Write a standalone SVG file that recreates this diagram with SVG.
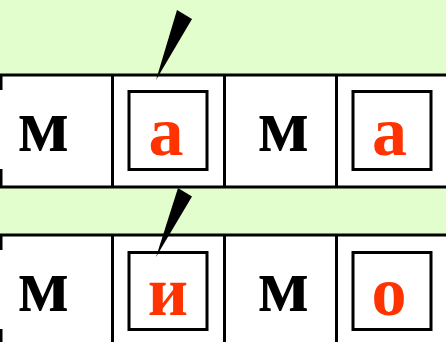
<svg xmlns="http://www.w3.org/2000/svg" width="446" height="342" viewBox="0 0 446 342">
<style>
.cell{fill:#ffffff;stroke:none}
.ln{stroke:#000;stroke-width:3;fill:none}
.box{fill:#ffffff;stroke:#000;stroke-width:3}
.blk{font-family:"Liberation Serif","Times New Roman",serif;font-weight:bold;font-size:76px;fill:#000;text-anchor:middle}
.red{font-family:"Liberation Serif","Times New Roman",serif;font-weight:bold;font-size:70px;fill:#ff3300;text-anchor:middle}
.mark{fill:#000}
</style>
<rect x="0" y="0" width="446" height="342" fill="#e2fecc"/>
<g id="row1">
<rect class="cell" x="0" y="75" width="446" height="112"/>
<line class="ln" x1="0" y1="75" x2="446" y2="75"/>
<line class="ln" x1="0" y1="187" x2="446" y2="187"/>
<line class="ln" x1="112.5" y1="75" x2="112.5" y2="187"/>
<line class="ln" x1="224.5" y1="75" x2="224.5" y2="187"/>
<line class="ln" x1="336.5" y1="75" x2="336.5" y2="187"/>
<line class="ln" x1="1" y1="75" x2="1" y2="90"/>
<line class="ln" x1="1" y1="169" x2="1" y2="187"/>
</g>
<g id="row2">
<rect class="cell" x="0" y="235" width="446" height="110"/>
<line class="ln" x1="0" y1="235" x2="446" y2="235"/>
<line class="ln" x1="112.5" y1="235" x2="112.5" y2="342"/>
<line class="ln" x1="224.5" y1="235" x2="224.5" y2="342"/>
<line class="ln" x1="336.5" y1="235" x2="336.5" y2="342"/>
<line class="ln" x1="1" y1="235" x2="1" y2="250"/>
<line class="ln" x1="1" y1="329" x2="1" y2="342"/>
</g>
<g id="r1c1"><text class="blk" x="43.5" y="151">м</text></g>
<g id="r1c2"><rect class="box" x="129" y="91.5" width="78" height="78"/><text class="red" x="166" y="155">а</text></g>
<g id="r1c3"><text class="blk" x="283.5" y="151">м</text></g>
<g id="r1c4"><rect class="box" x="353" y="91.5" width="78" height="78"/><text class="red" x="389.5" y="155">а</text></g>
<g id="r2c1"><text class="blk" x="43.5" y="311">м</text></g>
<g id="r2c2"><rect class="box" x="129" y="252.5" width="78" height="77"/><text class="red" x="168" y="315">и</text></g>
<g id="r2c3"><text class="blk" x="283.5" y="311">м</text></g>
<g id="r2c4"><rect class="box" x="353" y="252.5" width="78" height="77"/><text class="red" x="389" y="315">о</text></g>
<g id="connectors">
<polygon class="mark" points="156,80 177,10 192,19"/>
<polygon class="mark" points="156,257 178,188 192,196.5"/>
</g>
</svg>
